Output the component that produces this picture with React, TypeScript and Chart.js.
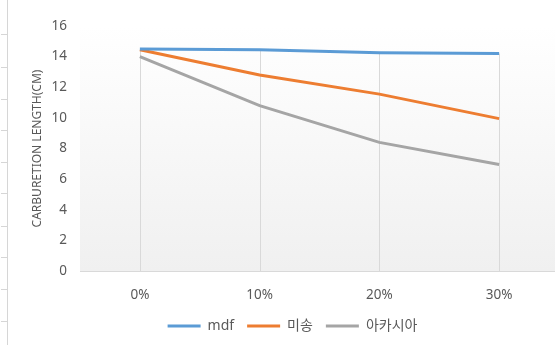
import React, { useEffect, useRef } from "react";
import { Chart, registerables } from "chart.js";

Chart.register(...registerables);

const categories = ["0%", "10%", "20%", "30%"];
const mdfValues = [14.5, 14.45, 14.25, 14.2];
const misongValues = [14.45, 12.8, 11.55, 9.95];
const acaciaValues = [14.0, 10.8, 8.4, 6.95];
const yTicks = [0, 2, 4, 6, 8, 10, 12, 14, 16];
const rulerTicks = [34, 67, 99, 130, 162, 193, 226, 257, 289, 321];

const FONT = "'Noto Sans', 'Noto Sans CJK KR', sans-serif";
const TEXT = "#595959";

export default function App() {
  const ref = useRef<HTMLCanvasElement | null>(null);

  useEffect(() => {
    if (!ref.current) return;

    const decorPlugin = {
      id: "decor",
      beforeDraw(chart: any) {
        const { ctx, chartArea } = chart;
        ctx.save();
        const g = ctx.createLinearGradient(0, chartArea.top, 0, chartArea.bottom);
        g.addColorStop(0, "#ffffff");
        g.addColorStop(1, "#f0f0f0");
        ctx.fillStyle = g;
        ctx.fillRect(chartArea.left, chartArea.top, chartArea.right - chartArea.left, chartArea.bottom - chartArea.top);
        // left ruler decoration
        ctx.strokeStyle = "#d6d6d6";
        ctx.lineWidth = 1;
        ctx.beginPath();
        ctx.moveTo(7.5, 0);
        ctx.lineTo(7.5, 345);
        rulerTicks.forEach((t) => {
          ctx.moveTo(1, t + 0.5);
          ctx.lineTo(7, t + 0.5);
        });
        ctx.stroke();
        ctx.restore();
      },
      beforeDatasetsDraw(chart: any) {
        const { ctx, scales } = chart;
        const xs = scales.x;
        const ys = scales.y;
        ctx.save();
        ctx.strokeStyle = "#d9d9d9";
        ctx.lineWidth = 1;
        categories.forEach((_, i) => {
          const maxV = Math.max(...chart.data.datasets.map((d: any) => d.data[i]));
          const x = Math.round(xs.getPixelForValue(i)) + 0.5;
          ctx.beginPath();
          ctx.moveTo(x, ys.getPixelForValue(maxV));
          ctx.lineTo(x, ys.getPixelForValue(0));
          ctx.stroke();
        });
        ctx.restore();
      },
      afterLayout(chart: any) {
        const lg = chart.legend;
        if (lg) {
          const h = lg.bottom - lg.top;
          lg.top = 327 - 21;
          lg.bottom = lg.top + h;
        }
      },
    };

    const chart = new Chart(ref.current, {
      type: "line",
      data: {
        labels: categories,
        datasets: [
          { label: "mdf", data: mdfValues, borderColor: "#5B9BD5", backgroundColor: "#5B9BD5" },
          { label: "미송", data: misongValues, borderColor: "#ED7D31", backgroundColor: "#ED7D31" },
          { label: "아카시아", data: acaciaValues, borderColor: "#A5A5A5", backgroundColor: "#A5A5A5" },
        ].map((d) => ({ ...d, borderWidth: 3, pointRadius: 0, tension: 0, fill: false })),
      },
      options: {
        animation: false,
        responsive: false,
        devicePixelRatio: 1,
        layout: { padding: { top: 26, left: 26, right: 31, bottom: 0 } },
        plugins: {
          tooltip: { enabled: false },
          legend: {
            position: "bottom",
            labels: {
              font: { family: FONT, size: 14 },
              color: TEXT,
              boxWidth: 33,
              boxHeight: 3,
              padding: 13,
              generateLabels: (c: any) =>
                (Chart.defaults.plugins.legend.labels as any)
                  .generateLabels(c)
                  .map((l: any) => ({ ...l, lineWidth: 0, fillStyle: l.strokeStyle })),
            },
          },
        },
        scales: {
          x: {
            offset: true,
            grid: { display: false, drawTicks: false },
            border: { display: true, color: "#d9d9d9" },
            ticks: { font: { family: FONT, size: 13.5 }, color: TEXT, padding: 16 },
            afterFit: (s: any) => {
              s.height = 345 - 271 - s.chart.legend.height;
            },
          },
          y: {
            min: 0,
            max: 16,
            afterBuildTicks: (s: any) => {
              s.ticks = yTicks.map((v) => ({ value: v }));
            },
            grid: { display: false, drawTicks: false },
            border: { display: false },
            ticks: { font: { family: FONT, size: 13.5 }, color: TEXT, padding: 13 },
            title: {
              display: true,
              text: "CARBURETION LENGTH(CM)",
              font: { family: FONT, size: 12 },
              color: TEXT,
            },
            afterFit: (s: any) => {
              s.width = 54;
            },
          },
        },
      },
      plugins: [decorPlugin],
    });

    return () => chart.destroy();
  }, []);

  return (
    <div style={{ position: "absolute", left: 0, top: 0, width: 555, height: 345, overflow: "hidden", background: "#fff" }}>
      <canvas ref={ref} width={590} height={345} style={{ display: "block" }} />
    </div>
  );
}
